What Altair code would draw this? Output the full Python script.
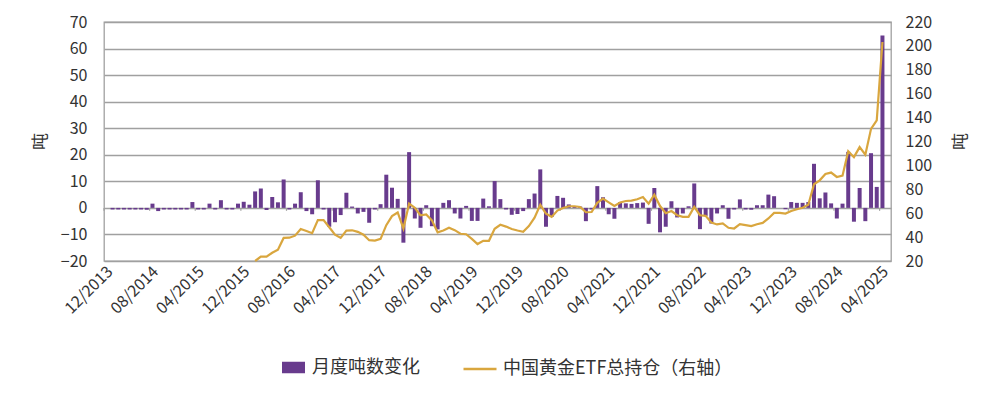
import altair as alt
import pandas as pd

# ---- data ----
months = [p.strftime("%m/%Y") for p in pd.period_range("2013-12", "2025-04", freq="M")]

tick_labels = ["12/2013", "08/2014", "04/2015", "12/2015", "08/2016", "04/2017",
               "12/2017", "08/2018", "04/2019", "12/2019", "08/2020", "04/2021",
               "12/2021", "08/2022", "04/2023", "12/2023", "08/2024", "04/2025"]

# 月度吨数变化 (left axis, tonnes)
monthly_change = [
    0, -0.6, -0.6, -0.6, -0.6, -0.6, -0.6, -0.7, 1.6, -1.2,
    -0.6, -0.6, -0.6, -0.6, -0.6, 2.2, -0.6, -0.6, 1.6, -0.6,
    2.9, -0.6, -0.6, 1.6, 2.3, 1.2, 6.2, 7.3, -0.8, 4.1,
    2.1, 10.7, -0.6, 1.6, 5.9, -1.2, -2.4, 10.4, -0.6, -7.1,
    -5.4, -2.7, 5.7, 0.5, -2.1, -1.5, -5.6, -0.6, 1.4, 12.5,
    7.6, 3.4, -13.1, 21, -4, -7.5, 1, -6.9, -8.1, 1.9,
    2.9, -2.1, -4, 0.75, -4.9, -4.9, 3.5, 0.6, 10.1, 3.3,
    -0.6, -2.6, -2.3, -1.2, 3.3, 5.4, 14.5, -7.1, -3.4, 4.5,
    3.8, 1.3, 0.6, 0.5, -5, -0.6, 8.2, 4, -2.4, -4.1,
    2.2, 1.7, 1.5, 1.8, 2, -6, 7.5, -9.2, -7.1, 2.5,
    -3.6, -2.1, 0.6, 9.2, -8, -3, -5.9, -2.1, 1, -4.1,
    -0.6, 3.2, -0.6, -0.7, 1, 1, 5, 4.4, 0, -0.5,
    2.2, 1.9, 1.9, 2.2, 16.6, 3.6, 5.8, 1.7, -4, 1.6,
    21.1, -5.2, 7.5, -5, 20.6, 7.9, 64.9,
]

# 中国黄金ETF总持仓 (right axis, tonnes), starts 02/2016
etf_holdings = [None] * 26 + [
    20, 23.6, 23.6, 26.9, 29.5, 39.3, 39.5, 41.2, 46.8, 45.1,
    43.3, 54.2, 54.2, 48.2, 42, 39.3, 45.5, 45.7, 44.4, 42,
    37.4, 37.1, 38.5, 50, 57.6, 60.6, 47.2, 68, 64.5, 58.2,
    59, 54, 44, 45.5, 47.8, 45.8, 42.8, 42.4, 38.5, 34.2,
    36.9, 36.9, 47, 50.3, 48.8, 46.8, 45.5, 44.4, 49.2, 56.2,
    67, 59.7, 56.9, 62.2, 64.3, 65.8, 65.8, 65.2, 60.8, 61,
    68.7, 72.2, 69.1, 66, 69, 70.2, 70.5, 71.7, 73.6, 68,
    75.5, 66, 60, 61.8, 58.3, 56.9, 56.9, 65.3, 58.3, 57.8,
    52.2, 50.6, 51.4, 47.8, 47.2, 50.8, 50, 49.2, 50.8, 51.9,
    55.6, 60.3, 60.3, 59.7, 61.8, 63.3, 64.6, 67, 84.2, 87.5,
    92.8, 94, 90.3, 91.4, 111.8, 106.9, 115.3, 109, 130.6, 137.7,
    203.3,
]

bar_name = "月度吨数变化"
line_name = "中国黄金ETF总持仓（右轴）"

PURPLE = "#683b8d"
GOLD = "#d9a63e"
GRID = "#a0a0a0"
FONT = "Noto Sans CJK SC"
TXT = "#333333"

df = pd.DataFrame({
    "idx": list(range(len(months))),
    "month": months,
    "change": monthly_change,
    "holding": etf_holdings,
})
tick_idx = [months.index(t) for t in tick_labels]
ticks_df = pd.DataFrame({"idx": tick_idx, "label": tick_labels})

label_expr = "[" + ",".join("'" + t + "'" for t in tick_labels) + "][round(datum.value/8)]"

x_scale = alt.Scale(domain=[0, len(months) + 1], nice=False, zero=False)
x_axis = alt.Axis(values=tick_idx, labelExpr=label_expr, labelAngle=315,
                  labelAlign="right", labelBaseline="top", labelPadding=2,
                  ticks=False, domain=False, grid=False, labelOverlap=False,
                  labelFlush=False, labelFontSize=16, labelColor=TXT, title=None)

left_scale = alt.Scale(domain=[-20, 70], nice=False)
left_axis = alt.Axis(values=list(range(-20, 80, 10)), grid=True, labelOverlap=False,
                     gridColor=GRID, gridWidth=1.3, domain=False, ticks=False,
                     labelPadding=17, labelFontSize=16, labelColor=TXT,
                     title="吨", titleAngle=270, titleX=-64, titleY=119,
                     titleAlign="center", titleBaseline="middle",
                     titleFontSize=17, titleFontWeight="normal", titleColor=TXT)

base = alt.Chart(df)

bars = base.transform_calculate(
    b0="datum.idx + 0.15", b1="datum.idx + 0.85", base0="0", s="'" + bar_name + "'"
).mark_bar().encode(
    x=alt.X("b0:Q", scale=x_scale, axis=x_axis),
    x2="b1:Q",
    y=alt.Y("change:Q", scale=left_scale, axis=left_axis),
    y2="base0:Q",
    fill=alt.Fill("s:N", scale=alt.Scale(domain=[bar_name], range=[PURPLE]),
                  legend=alt.Legend(title=None, orient="none", legendX=178, legendY=334,
                                    symbolType="M-1,-0.5H1V0.5H-1Z", symbolSize=529,
                                    symbolStrokeWidth=0, labelFontSize=18, labelColor=TXT,
                                    labelOffset=7, padding=0, labelLimit=400)),
)

zero_ticks = alt.Chart(ticks_df).transform_calculate(
    lo="-1.1", hi="0"
).mark_rule(color=GRID, strokeWidth=1.2).encode(
    x=alt.X("idx:Q", scale=x_scale, axis=x_axis),
    y=alt.Y("lo:Q", scale=left_scale, axis=left_axis),
    y2="hi:Q",
)

line = base.transform_filter("isValid(datum.holding)").transform_calculate(
    xc="datum.idx + 0.5", s2="'" + line_name + "'"
).mark_line(strokeWidth=2.2).encode(
    x=alt.X("xc:Q", scale=x_scale, axis=x_axis),
    y=alt.Y("holding:Q",
            scale=alt.Scale(domain=[20, 220], nice=False, zero=False),
            axis=alt.Axis(orient="right", values=list(range(20, 240, 20)), grid=False,
                          labelOverlap=False,
                          domain=False, ticks=False, labelPadding=14, labelFontSize=16,
                          labelColor=TXT, title="吨", titleAngle=270, titleX=69, titleY=119,
                          titleAlign="center", titleBaseline="middle",
                          titleFontSize=17, titleFontWeight="normal", titleColor=TXT)),
    stroke=alt.Stroke("s2:N", scale=alt.Scale(domain=[line_name], range=[GOLD]),
                      legend=alt.Legend(title=None, orient="none", legendX=358, legendY=329,
                                        symbolType="stroke", symbolSize=1089,
                                        symbolStrokeWidth=2.5, labelFontSize=18,
                                        labelColor=TXT, labelOffset=5, padding=0,
                                        labelLimit=400)),
)

chart = alt.layer(
    alt.layer(bars, zero_ticks), line
).resolve_scale(
    y="independent"
).properties(
    width=787, height=239,
    autosize=alt.AutoSizeParams(type="none"),
    padding={"left": 96, "top": 14, "right": 96, "bottom": 120},
).configure(
    font=FONT,
).configure_view(
    stroke=GRID, strokeWidth=1.3,
)

chart.save("out.html", embed_options={"renderer": "svg", "actions": False})
